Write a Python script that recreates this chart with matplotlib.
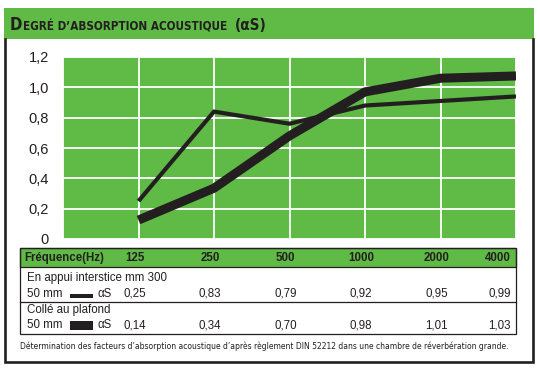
import matplotlib
matplotlib.use("Agg")
import matplotlib.pyplot as plt
from matplotlib.patches import Rectangle
from matplotlib.transforms import blended_transform_factory

# frequencies (Hz) and the two curves
frequencies = ["125", "250", "500", "1000", "2000", "4000"]
curve_appui = [0.25, 0.84, 0.76, 0.88, 0.91, 0.94]
curve_colle = [0.125, 0.335, 0.68, 0.97, 1.06, 1.075]

# values printed in the table
table_appui = ["0,25", "0,83", "0,79", "0,92", "0,95", "0,99"]
table_colle = ["0,14", "0,34", "0,70", "0,98", "1,01", "1,03"]

y_ticks = [0, 0.2, 0.4, 0.6, 0.8, 1.0, 1.2]
y_labels = ["0", "0,2", "0,4", "0,6", "0,8", "1,0", "1,2"]

GREEN = "#5fba46"
INK = "#231f20"
NARROW = ["Liberation Sans", "DejaVu Sans"]
COND = dict(family=["DejaVu Sans"], fontstretch="condensed")

plt.rcParams["font.family"] = NARROW

fig = plt.figure(figsize=(5.4, 3.7), dpi=100)

# overlay in pixel coordinates for the frame, title bar and table
ov = fig.add_axes([0, 0, 1, 1], zorder=0)
ov.set_xlim(0, 540)
ov.set_ylim(370, 0)
ov.axis("off")

ov.add_patch(Rectangle((4, 8), 530, 31, facecolor=GREEN, edgecolor="none"))
ov.plot([5, 5, 533, 533], [39, 362, 362, 39], color=INK, lw=1.9,
        solid_joinstyle="miter")

t1 = ov.text(10, 29.5, "D", fontsize=12, fontweight="bold", color=INK,
             va="baseline", ha="left", **COND)
t2 = ov.annotate("EGRÉ D’ABSORPTION ACOUSTIQUE", xy=(1, 0), xycoords=t1,
                 xytext=(0.3, 0), textcoords="offset points", fontsize=8.4,
                 fontweight="bold", color=INK, va="bottom", ha="left", **COND)
ov.annotate("(αS)", xy=(1, 0), xycoords=t2, xytext=(6, 0),
            textcoords="offset points", fontsize=11, fontweight="bold",
            color=INK, va="bottom", ha="left", **COND)

# chart
ax = fig.add_axes([63 / 540, 1 - 239 / 370, 453 / 540, 182 / 370], zorder=1)
ax.set_facecolor(GREEN)
x = list(range(1, len(frequencies) + 1))
ax.plot(x, curve_appui, color=INK, lw=3.0, solid_capstyle="butt",
        solid_joinstyle="miter", zorder=3)
ax.plot(x, curve_colle, color=INK, lw=6.5, solid_capstyle="butt",
        solid_joinstyle="round", zorder=4)
ax.set_xlim(0, 6)
ax.set_ylim(0, 1.2)
ax.set_xticks(range(0, 7))
ax.set_xticklabels([])
ax.set_yticks(y_ticks)
ax.set_yticklabels(y_labels, fontsize=10.5, color=INK)
ax.tick_params(length=0, pad=10)
ax.grid(True, color="white", lw=1.3)
ax.set_axisbelow(True)
for s in ax.spines.values():
    s.set_visible(False)

# table
ov.add_patch(Rectangle((20, 248), 496, 19, facecolor=GREEN, edgecolor=INK, lw=0.9))
ov.add_patch(Rectangle((20, 248), 496, 86, facecolor="none", edgecolor=INK, lw=0.9))
ov.plot([20, 516], [302, 302], color=INK, lw=0.9)

col = blended_transform_factory(ax.transData, ov.transData)
fs = 8.3

ov.text(24, 258, "Fréquence(Hz)", fontsize=fs, fontweight="bold", color=INK,
        va="center", ha="left")
ov.text(27, 278, "En appui interstice mm 300", fontsize=fs, color=INK,
        va="center", ha="left")
ov.text(27, 294, "50 mm", fontsize=fs, color=INK, va="center", ha="left")
ov.add_patch(Rectangle((70, 294), 23, 4, facecolor=INK, edgecolor="none"))
ov.text(98, 294, "αS", fontsize=fs, color=INK, va="center", ha="left")
ov.text(27, 310, "Collé au plafond", fontsize=fs, color=INK, va="center", ha="left")
ov.text(27, 325, "50 mm", fontsize=fs, color=INK, va="center", ha="left")
ov.add_patch(Rectangle((70, 321), 23, 9, facecolor=INK, edgecolor="none"))
ov.text(98, 325, "αS", fontsize=fs, color=INK, va="center", ha="left")

for i, f in enumerate(frequencies):
    last = i == len(frequencies) - 1
    xi = x[i] - (0.07 if last else 0.05)
    ha = "right" if last else "center"
    ov.text(xi, 258, f, fontsize=fs, fontweight="bold", color=INK,
            va="center", ha=ha, transform=col)
    ov.text(xi, 294, table_appui[i], fontsize=fs, color=INK,
            va="center", ha=ha, transform=col)
    ov.text(xi, 325, table_colle[i], fontsize=fs, color=INK,
            va="center", ha=ha, transform=col)

ov.text(20, 346, "Détermination des facteurs d’absorption acoustique d’après "
        "règlement DIN 52212 dans une chambre de réverbération grande.",
        fontsize=6.15, color=INK, va="center", ha="left", **COND)

fig.savefig("out.png", dpi=100)
